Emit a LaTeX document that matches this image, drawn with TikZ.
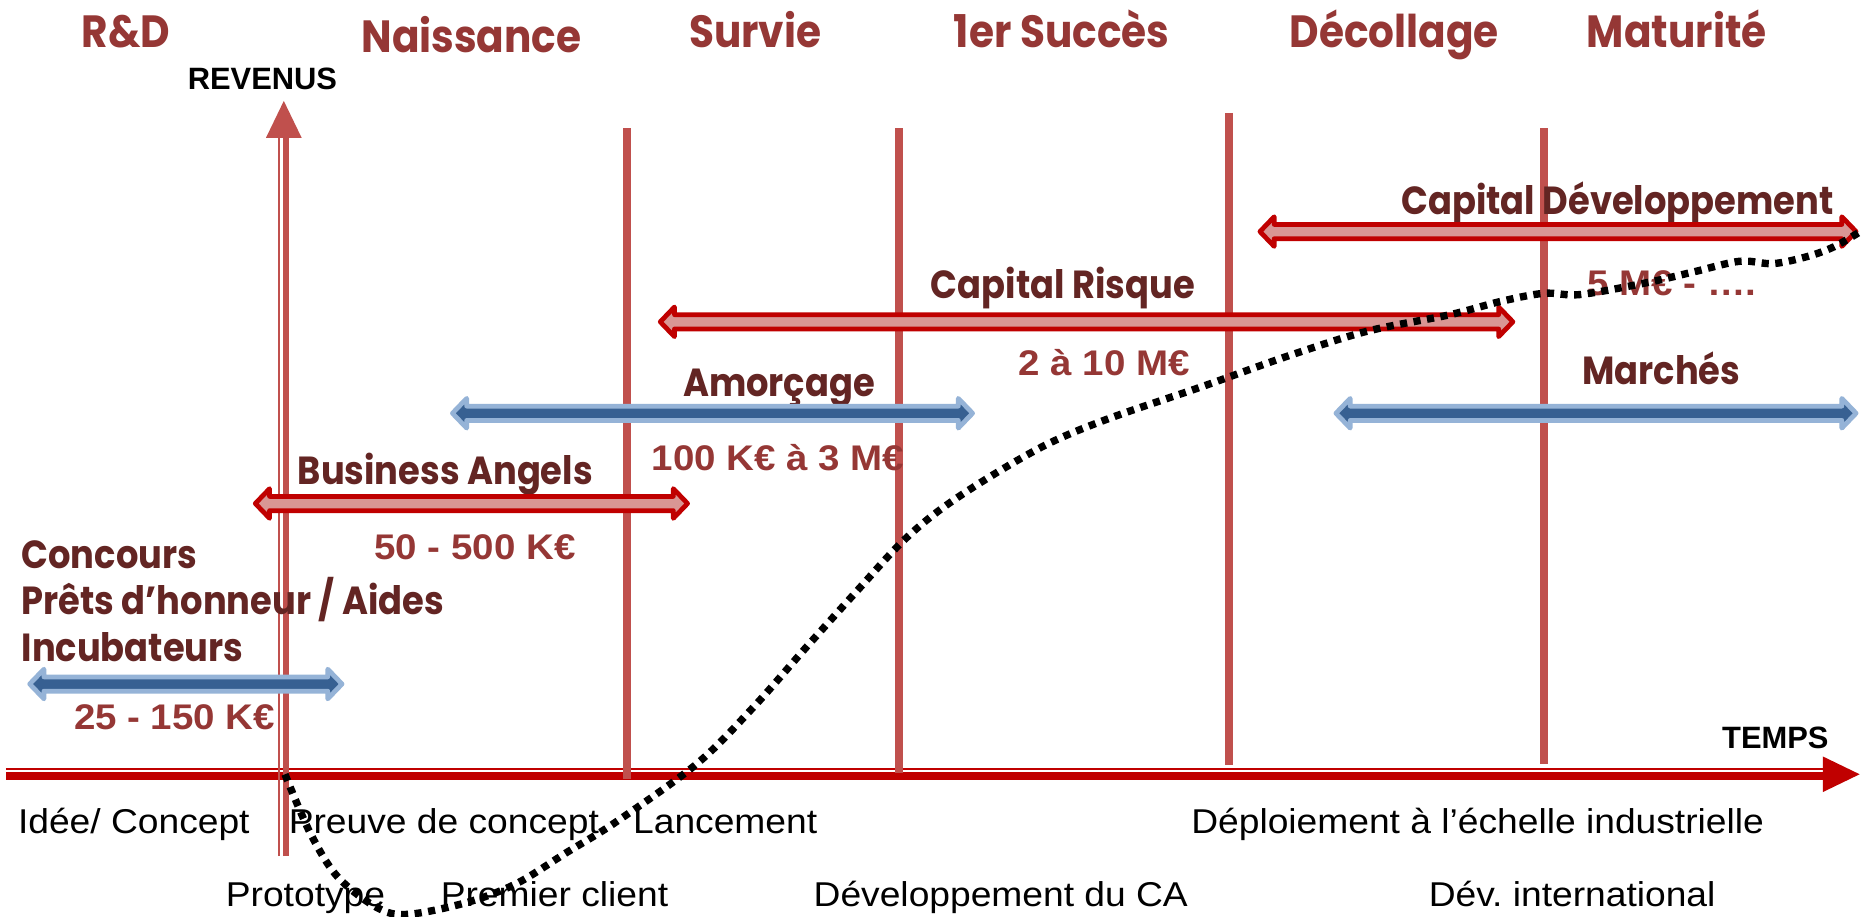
\documentclass[tikz,border=0pt]{standalone}
\usepackage{fontspec}
\setmainfont{Liberation Sans}
\newfontfamily\popf[FakeStretch=0.9]{Poppins}
\newfontfamily\arx[FakeStretch=1.08]{Liberation Sans}
\definecolor{titlecol}{HTML}{953735}
\definecolor{labcol}{HTML}{632523}
\definecolor{amtcol}{HTML}{953735}
\definecolor{sepcol}{HTML}{C0504D}
\definecolor{axcol}{HTML}{C00000}
\definecolor{pinkfill}{HTML}{D99694}
\definecolor{blueout}{HTML}{95B3D7}
\definecolor{bluein}{HTML}{376092}
\tikzset{
  title/.style={font=\popf\bfseries\fontsize{38}{44}\selectfont, text=titlecol, inner sep=0pt, anchor=base},
  lab/.style={font=\popf\bfseries\fontsize{33}{39}\selectfont, text=labcol, inner sep=0pt, anchor=base},
  amt/.style={font=\arx\bfseries\fontsize{30}{36}\selectfont, text=amtcol, inner sep=0pt, anchor=base},
  bot/.style={font=\arx\fontsize{29}{35}\selectfont, text=black, inner sep=0pt, anchor=base west},
  axlab/.style={font=\bfseries\fontsize{26}{30}\selectfont, text=black, inner sep=0pt, anchor=base},
  sepline/.style={draw=sepcol, line width=7pt},
  redarr/.style={draw=axcol, fill=pinkfill, line width=4pt, line join=round},
  bluearr/.style={draw=blueout, fill=bluein, line width=4pt, line join=round},
  revcurve/.style={draw=black, line width=6.2pt, dash pattern=on 6pt off 5.5pt},
}
\def\aL{12}\def\aH{12.5}\def\ah{6}
\newcommand\DArr[4]{%
  \path[#1] (#2,#4) -- ({#2+\aL},{#4-\aH}) -- ({#2+\aL},{#4-\ah}) -- ({#3-\aL},{#4-\ah})
    -- ({#3-\aL},{#4-\aH}) -- (#3,#4) -- ({#3-\aL},{#4+\aH}) -- ({#3-\aL},{#4+\ah})
    -- ({#2+\aL},{#4+\ah}) -- ({#2+\aL},{#4+\aH}) -- cycle;}
\frenchspacing
\begin{document}
\begin{tikzpicture}[x=1pt,y=-1pt]
\useasboundingbox[fill=white] (0,0) rectangle (1568,772);
% horizontal axis (TEMPS)
\coordinate (hx0) at (5,652);
\coordinate (hx1) at (1566,652);
\draw[axcol, line width=1.5pt] (5,647.5) -- (1536,647.5);
\draw[axcol, line width=6.5pt] (5,653.5) -- (1536,653.5);
\fill[axcol] (1535,637) -- (hx1) -- (1535,667) -- cycle;
% separators
\draw[sepline] (528,108) -- (528,656);
\draw[sepline] (757,108) -- (757,651);
\draw[sepline] (1035,95) -- (1035,644);
\draw[sepline] (1300,108) -- (1300,643);
% vertical axis (REVENUS)
\coordinate (vy1) at (239,85);
\draw[sepcol, line width=1.6pt] (235,721) -- (235,113);
\draw[sepcol, line width=5.5pt] (241,721) -- (241,113);
\fill[sepcol] (224,116) -- (vy1) -- (254,116) -- cycle;
% titles
\node[title] (rd) at (106,40) {R\&D};
\node[title] (nais) at (397,44) {Naissance};
\node[title] (surv) at (636,40) {Survie};
\node[title] (succ) at (894,40) {1er Succès};
\node[title] (deco) at (1174,40) {Décollage};
\node[title] (matu) at (1412,40) {Maturité};
\node[axlab] (rev) at (221,75) {REVENUS};
\node[axlab] (temps) at (1495,630) {TEMPS};
% funding labels
\node[lab] (capdev) at (1362,181) {Capital Développement};
\node[lab] (caprisk) at (895,251) {Capital Risque};
\node[lab] (amorc) at (656,334) {Amorçage};
\node[lab] (march) at (1399,324) {Marchés};
\node[lab] (ba) at (375,408) {Business Angels};
\node[lab, anchor=north west, align=left] (conc) at (18,455) {Concours\\Prêts d’honneur / Aides\\Incubateurs};
% amounts
\node[amt] (a5m) at (1408,249) {5 M€ - ….};
\node[amt] (a2m) at (930,316) {2 à 10 M€};
\node[amt] (a100k) at (655,396) {100 K€ à 3 M€};
\node[amt] (a50k) at (400,471) {50 - 500 K€};
\node[amt] (a25k) at (147,614) {25 - 150 K€};
% bottom labels
\node[bot] (idee) at (15,702) {Idée/ Concept};
\node[bot] (preuve) at (243,702) {Preuve de concept};
\node[bot] (lanc) at (533,702) {Lancement};
\node[bot] (deploi) at (1003,702) {Déploiement à l’échelle industrielle};
\node[bot] (proto) at (190,763) {Prototype};
\node[bot] (client) at (371,763) {Premier client};
\node[bot] (devca) at (685,763) {Développement du CA};
\node[bot] (devint) at (1203,763) {Dév. international};
% funding arrows
\DArr{redarr}{1061}{1563}{195}
\DArr{redarr}{556}{1274}{271}
\DArr{redarr}{215}{579}{424}
\DArr{bluearr}{381}{819}{348}
\DArr{bluearr}{1125}{1563}{348}
\DArr{bluearr}{25}{288}{576}
% revenue curve
\draw[revcurve] plot[smooth, tension=0.55] coordinates {(240,652) (261,701) (284,738) (317,764) (343,770) (393,760) (435,744) (477,718) (519,692) (587,643) (634,596) (679,545) (724,495) (759,457) (792,429) (836,400) (884,373) (935,352) (1011,326) (1084,300) (1151,279) (1221,265) (1263,254) (1300,247) (1331,248) (1387,238) (1426,229) (1465,220) (1493,222) (1522,216) (1544,208) (1565,196)};
\end{tikzpicture}
\end{document}
